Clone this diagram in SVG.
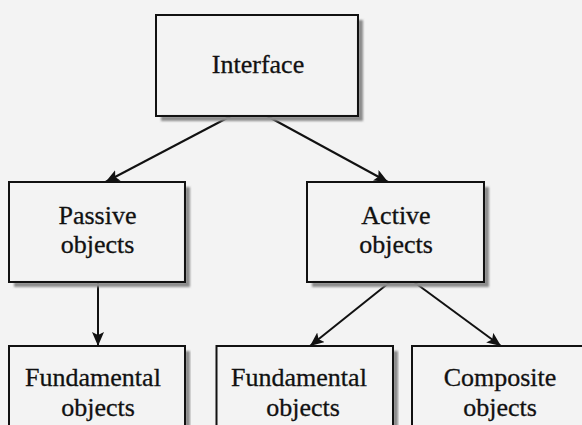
<svg xmlns="http://www.w3.org/2000/svg" width="582" height="425" viewBox="0 0 582 425">
  <style>
    .page { fill: #f3f3f3; }
    .box { fill: none; stroke: #111; stroke-width: 2; }
    .shadow { fill: #8c8c8c; filter: url(#soft); }
    .label { font-family: "Liberation Serif", "Times New Roman", serif; font-size: 26px; fill: #111; text-anchor: middle; stroke: #111; stroke-width: 0.3; }
    .edge { fill: none; stroke: #111; stroke-width: 2; marker-end: url(#arrow); }
  </style>
  <defs>
    <filter id="soft" x="-10%" y="-10%" width="120%" height="120%">
      <feGaussianBlur stdDeviation="0.8"/>
    </filter>
    <marker id="arrow" markerUnits="userSpaceOnUse" markerWidth="15" markerHeight="12" refX="14" refY="6" orient="auto">
      <path d="M0,0 L14,6 L0,12 L3,6 Z" fill="#111"/>
    </marker>
  </defs>

  <rect class="page" x="0" y="0" width="582" height="425"/>

  <!-- connectors -->
  <g id="connectors">
    <line class="edge" x1="231" y1="116" x2="105.5" y2="182"/>
    <line class="edge" x1="267" y1="116" x2="388" y2="182"/>
    <line class="edge" x1="98" y1="282" x2="98" y2="346"/>
    <line class="edge" x1="390" y1="282" x2="310" y2="346"/>
    <line class="edge" x1="414" y1="282" x2="501" y2="346"/>
  </g>

  <g id="interface">
    <path class="shadow" d="M358,20 h5 v101 h-202 v-5 h197 Z"/>
    <rect class="box" x="156" y="15" width="202" height="101"/>
    <text class="label" x="258" y="72.5">Interface</text>
  </g>

  <g id="passive-objects">
    <path class="shadow" d="M185,187 h5 v100 h-176 v-5 h171 Z"/>
    <rect class="box" x="9" y="182" width="176" height="100"/>
    <text class="label" x="97.5" y="223.5">Passive</text>
    <text class="label" x="97.5" y="253">objects</text>
  </g>

  <g id="active-objects">
    <path class="shadow" d="M484,187 h5 v100 h-177 v-5 h172 Z"/>
    <rect class="box" x="307" y="182" width="177" height="100"/>
    <text class="label" x="396" y="223.5">Active</text>
    <text class="label" x="396" y="253">objects</text>
  </g>

  <g id="fundamental-passive">
    <path class="shadow" d="M185,351 h5 v90 h-5 Z"/>
    <rect class="box" x="9" y="346" width="176" height="95"/>
    <text class="label" x="93" y="386">Fundamental</text>
    <text class="label" x="98" y="416">objects</text>
  </g>

  <g id="fundamental-active">
    <path class="shadow" d="M393,351 h5 v90 h-5 Z"/>
    <rect class="box" x="216.5" y="346" width="176.5" height="95"/>
    <text class="label" x="299" y="386">Fundamental</text>
    <text class="label" x="303" y="416">objects</text>
  </g>

  <g id="composite-objects">
    <rect class="box" x="412" y="346" width="176" height="95"/>
    <text class="label" x="500" y="386">Composite</text>
    <text class="label" x="500" y="416">objects</text>
  </g>
</svg>
